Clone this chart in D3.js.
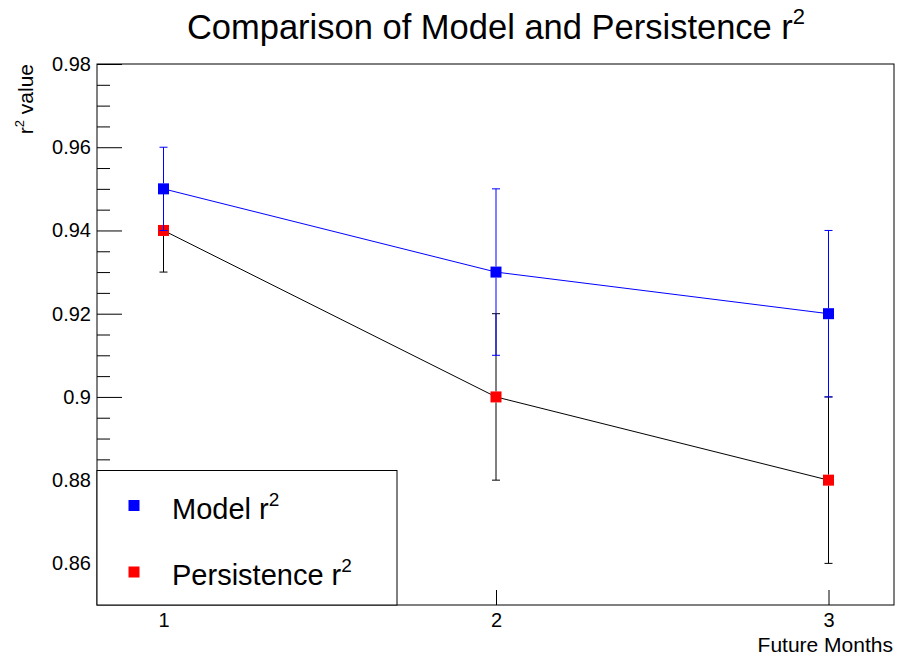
<!DOCTYPE html>
<html>
<head>
<meta charset="utf-8">
<script src="https://cdn.jsdelivr.net/npm/d3@7"></script>
<style>
  body { margin: 0; background: #fff; }
  svg { font-family: "Liberation Sans", Arial, sans-serif; }
</style>
</head>
<body>
<div id="chart"></div>
<script>
// data
const months = [1, 2, 3];
const modelR2 = [0.95, 0.93, 0.92];
const modelErr = [0.01, 0.02, 0.02];
const persistR2 = [0.94, 0.90, 0.88];
const persistErr = [0.01, 0.02, 0.02];
const yMajor = [0.86, 0.88, 0.90, 0.92, 0.94, 0.96, 0.98];

const width = 898, height = 659;
const margin = ({top: 64, right: 3, bottom: 54, left: 97});

const svg = d3.select("#chart")
  .append("svg")
  .attr("width", width)
  .attr("height", height);

let x = d3.scaleLinear()
  .domain([0.8, 3.2])
  .range([margin.left, width - margin.right]);

let y = d3.scaleLinear()
  .domain([0.85, 0.98])
  .range([height - margin.bottom, margin.top]);

// minor ticks every 0.005
let yMinor = d3.range(171, 197).map(d => d * 0.005).filter(d => Math.round(d * 1000) % 20 != 0);

svg.append("g")
  .attr("transform", `translate(${margin.left},0)`)
  .call(d3.axisLeft(y).tickValues(yMinor).tickSize(-13).tickFormat(""))
  .call(g => g.select(".domain").remove());

svg.append("g")
  .attr("transform", `translate(${margin.left},0)`)
  .call(d3.axisLeft(y).tickValues(yMajor).tickSize(-25).tickPadding(6)
    .tickFormat(d => String(+d.toFixed(2))))
  .call(g => g.select(".domain").remove())
  .call(g => g.selectAll("text").attr("font-size", 20).attr("font-family", "Liberation Sans, Arial, sans-serif").attr("fill", "#000"));

svg.append("g")
  .attr("transform", `translate(0,${height - margin.bottom})`)
  .call(d3.axisBottom(x).tickValues(months).tickSize(-15).tickPadding(8).tickFormat(d3.format("d")))
  .call(g => g.select(".domain").remove())
  .call(g => g.selectAll("text").attr("font-size", 20).attr("font-family", "Liberation Sans, Arial, sans-serif").attr("fill", "#000"));

svg.selectAll(".tick line").attr("stroke", "#000");

// frame
svg.append("rect")
  .attr("x", margin.left)
  .attr("y", margin.top)
  .attr("width", width - margin.left - margin.right - 1)
  .attr("height", height - margin.top - margin.bottom)
  .attr("fill", "none")
  .attr("stroke", "#000");

const ms = 11; // marker size

function drawSeries(vals, errs, lineColor, markColor) {
  let pts = months.map((m, i) => ({m: m, v: vals[i], e: errs[i]}));
  let g = svg.append("g");

  let line = d3.line()
    .x(d => x(d.m))
    .y(d => y(d.v));

  g.append("path")
    .datum(pts)
    .attr("fill", "none")
    .attr("stroke", lineColor)
    .attr("d", line);

  // error bars, leaving the marker area clear
  pts.forEach(d => {
    let cx = x(d.m), cy = y(d.v);
    let top = y(d.v + d.e), bot = y(d.v - d.e);
    g.append("line").attr("x1", cx).attr("x2", cx).attr("y1", top).attr("y2", cy - ms / 2).attr("stroke", lineColor);
    g.append("line").attr("x1", cx).attr("x2", cx).attr("y1", cy + ms / 2).attr("y2", bot).attr("stroke", lineColor);
    g.append("line").attr("x1", cx - 4).attr("x2", cx + 4).attr("y1", top).attr("y2", top).attr("stroke", lineColor);
    g.append("line").attr("x1", cx - 4).attr("x2", cx + 4).attr("y1", bot).attr("y2", bot).attr("stroke", lineColor);
  });

  g.selectAll("rect")
    .data(pts)
    .join("rect")
    .attr("x", d => x(d.m) - ms / 2)
    .attr("y", d => y(d.v) - ms / 2)
    .attr("width", ms)
    .attr("height", ms)
    .attr("fill", markColor);
}

drawSeries(persistR2, persistErr, "#000", "#ff0000");
drawSeries(modelR2, modelErr, "#0000ff", "#0000ff");

// legend
let leg = svg.append("g");
leg.append("rect")
  .attr("x", margin.left)
  .attr("y", 470.5)
  .attr("width", 300)
  .attr("height", height - margin.bottom - 470.5)
  .attr("fill", "#fff")
  .attr("stroke", "#000");

let legItems = [
  {label: "Model r", color: "#0000ff", y: 505.5, base: 519},
  {label: "Persistence r", color: "#ff0000", y: 572, base: 585}
];
legItems.forEach(d => {
  leg.append("rect")
    .attr("x", 134 - ms / 2).attr("y", d.y - ms / 2)
    .attr("width", ms).attr("height", ms)
    .attr("fill", d.color);
  let t = leg.append("text")
    .attr("x", 172).attr("y", d.base)
    .attr("font-size", 29)
    .text(d.label);
  t.append("tspan").attr("font-size", 19).attr("dy", -13).text("2");
});

// title
let title = svg.append("text")
  .attr("x", 496)
  .attr("y", 39)
  .attr("text-anchor", "middle")
  .attr("font-size", 34.5)
  .text("Comparison of Model and Persistence r");
title.append("tspan").attr("font-size", 22).attr("dy", -15).text("2");

// axis titles
svg.append("text")
  .attr("x", 893)
  .attr("y", 652)
  .attr("text-anchor", "end")
  .attr("font-size", 21)
  .text("Future Months");

let yt = svg.append("text")
  .attr("transform", "translate(33,64) rotate(-90)")
  .attr("text-anchor", "end")
  .attr("font-size", 21)
  .text("r");
yt.append("tspan").attr("font-size", 13).attr("dy", -9).text("2");
yt.append("tspan").attr("dy", 9).text(" value");
</script>
</body>
</html>
